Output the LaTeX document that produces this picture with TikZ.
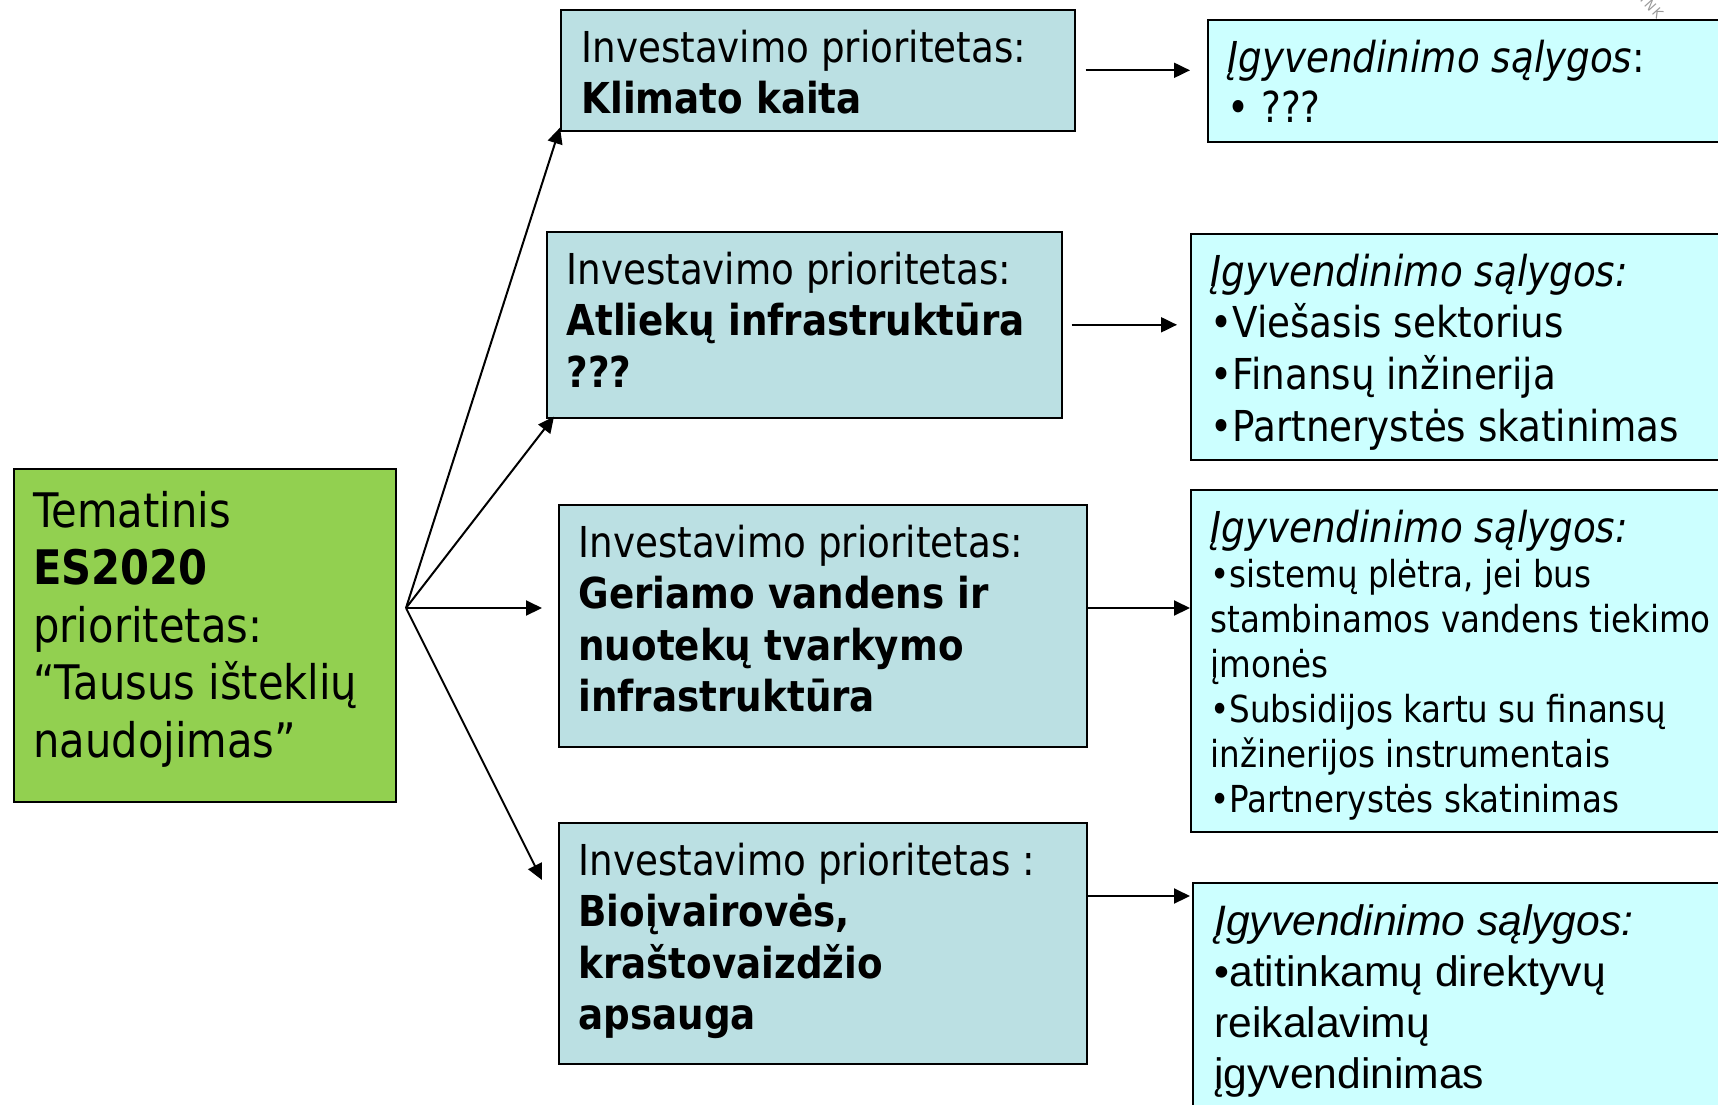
\documentclass[tikz,border=0pt]{standalone}
\usepackage{fontspec}
\setmainfont{DejaVu Sans}[FakeStretch=0.875]
\newfontfamily\arialf{Liberation Sans}
\usetikzlibrary{arrows.meta,calc}
\definecolor{greenbox}{HTML}{92D050}
\definecolor{bluebox}{HTML}{BBE0E3}
\definecolor{cyanbox}{HTML}{CCFFFF}
\tikzset{
  boxbase/.style={draw=black, line width=0.8pt, inner sep=0pt, anchor=north west},
  greenb/.style={boxbase, fill=greenbox},
  prio/.style={boxbase, fill=bluebox},
  cond/.style={boxbase, fill=cyanbox},
  txt/.style={anchor=base west, inner sep=0pt, text=black},
  arr/.style={line width=1pt, -{Triangle[length=8pt,width=7.5pt]}},
}
\newcommand{\Lines}[1]{\begin{tabular}[t]{@{}l@{}}#1\end{tabular}}
\newcommand{\fs}[2]{\fontsize{#1}{#2}\selectfont}
\begin{document}
\begin{tikzpicture}[x=0.5pt,y=-0.5pt]
\useasboundingbox (0,0) rectangle (1718,1104);
\clip (0,0) rectangle (1718,1104);
\fill[white] (0,0) rectangle (1718,1104);

% boxes
\node[greenb, minimum width=191pt, minimum height=166.5pt] (g) at (13,468) {};
\node[prio, minimum width=257pt, minimum height=60.5pt] (b1) at (560,9) {};
\node[prio, minimum width=257.5pt, minimum height=93pt] (b2) at (546,231) {};
\node[prio, minimum width=264pt, minimum height=121pt] (b3) at (558,504) {};
\node[prio, minimum width=264pt, minimum height=120.5pt] (b4) at (558,822) {};
\node[cond, minimum width=262pt, minimum height=61pt] (r1) at (1207,19) {};
\node[cond, minimum width=270pt, minimum height=113pt] (r2) at (1190,233) {};
\node[cond, minimum width=270pt, minimum height=171pt] (r3) at (1190,489) {};
\node[cond, minimum width=270pt, minimum height=125pt] (r4) at (1192,882) {};

% texts
\node[txt] (tg) at (33,527) {\fs{23.8}{28.75}\Lines{Tematinis\\ \textbf{ES2020}\\ prioritetas:\\ “Tausus išteklių\\ naudojimas”}};
\node[txt] (t1) at (581,62) {\fs{21.3}{25.75}\Lines{Investavimo prioritetas:\\ \textbf{Klimato kaita}}};
\node[txt] (t2) at (566,284) {\fs{21.3}{25.9}\Lines{Investavimo prioritetas:\\ \textbf{Atliekų infrastruktūra}\\ \textbf{???}}};
\node[txt] (t3) at (578,557) {\fs{21.3}{25.75}\Lines{Investavimo prioritetas:\\ \textbf{Geriamo vandens ir}\\ \textbf{nuotekų tvarkymo}\\ \textbf{infrastruktūra}}};
\node[txt] (t4) at (578,875) {\fs{21.3}{25.75}\Lines{Investavimo prioritetas :\\ \textbf{Bioįvairovės,}\\ \textbf{kraštovaizdžio}\\ \textbf{apsauga}}};
\node[txt] (s1) at (1227,72) {\fs{21.3}{25}\Lines{\textit{Įgyvendinimo sąlygos}:\\ • ???}};
\node[txt] (s2) at (1210,286) {\fs{21.3}{25.9}\Lines{\textit{Įgyvendinimo sąlygos:}\\ •Viešasis sektorius\\ •Finansų inžinerija\\ •Partnerystės skatinimas}};
\node[txt] (s3) at (1210,542) {\fs{18.6}{22.5}\Lines{{\fs{21.3}{22.5}\textit{Įgyvendinimo sąlygos:}}\\ •sistemų plėtra, jei bus\\ stambinamos vandens tiekimo\\ įmonės\\ •Subsidijos kartu su finansų\\ inžinerijos instrumentais\\ •Partnerystės skatinimas}};
\node[txt] (s4) at (1214,935) {\arialf\fs{21.3}{25.5}\Lines{\textit{Įgyvendinimo sąlygos:}\\ •atitinkamų direktyvų\\ reikalavimų\\ įgyvendinimas}};

% watermark fragment
\node[rotate=-48, text=black!40, inner sep=0pt, font=\fs{7}{8}] (wm) at (1652,7) {I\,N\,K};

% connectors
\coordinate (hub) at (406,608);
\draw[arr] (hub) -- ($(b1.south west)+(0,-4)$);
\draw[arr] (hub) -- ($(b2.south west)+(8,-2)$);
\draw[arr, shorten >=8pt] (hub) -- (b3.west |- hub);
\draw[arr] (hub) -- ($(b4.north west)+(-16,58)$);

\draw[arr, shorten <=5pt, shorten >=8.5pt] (b1.east) -- (b1.east -| r1.west);
\draw[arr, shorten <=4.5pt, shorten >=6.5pt] (b2.east) -- (b2.east -| r2.west);
\draw[arr] (b3.east |- hub) -- (r3.west |- hub);
\coordinate (a4) at ($(b4.north east)+(0,74)$);
\draw[arr, shorten >=1pt] (a4) -- (a4 -| r4.west);
\end{tikzpicture}
\end{document}
